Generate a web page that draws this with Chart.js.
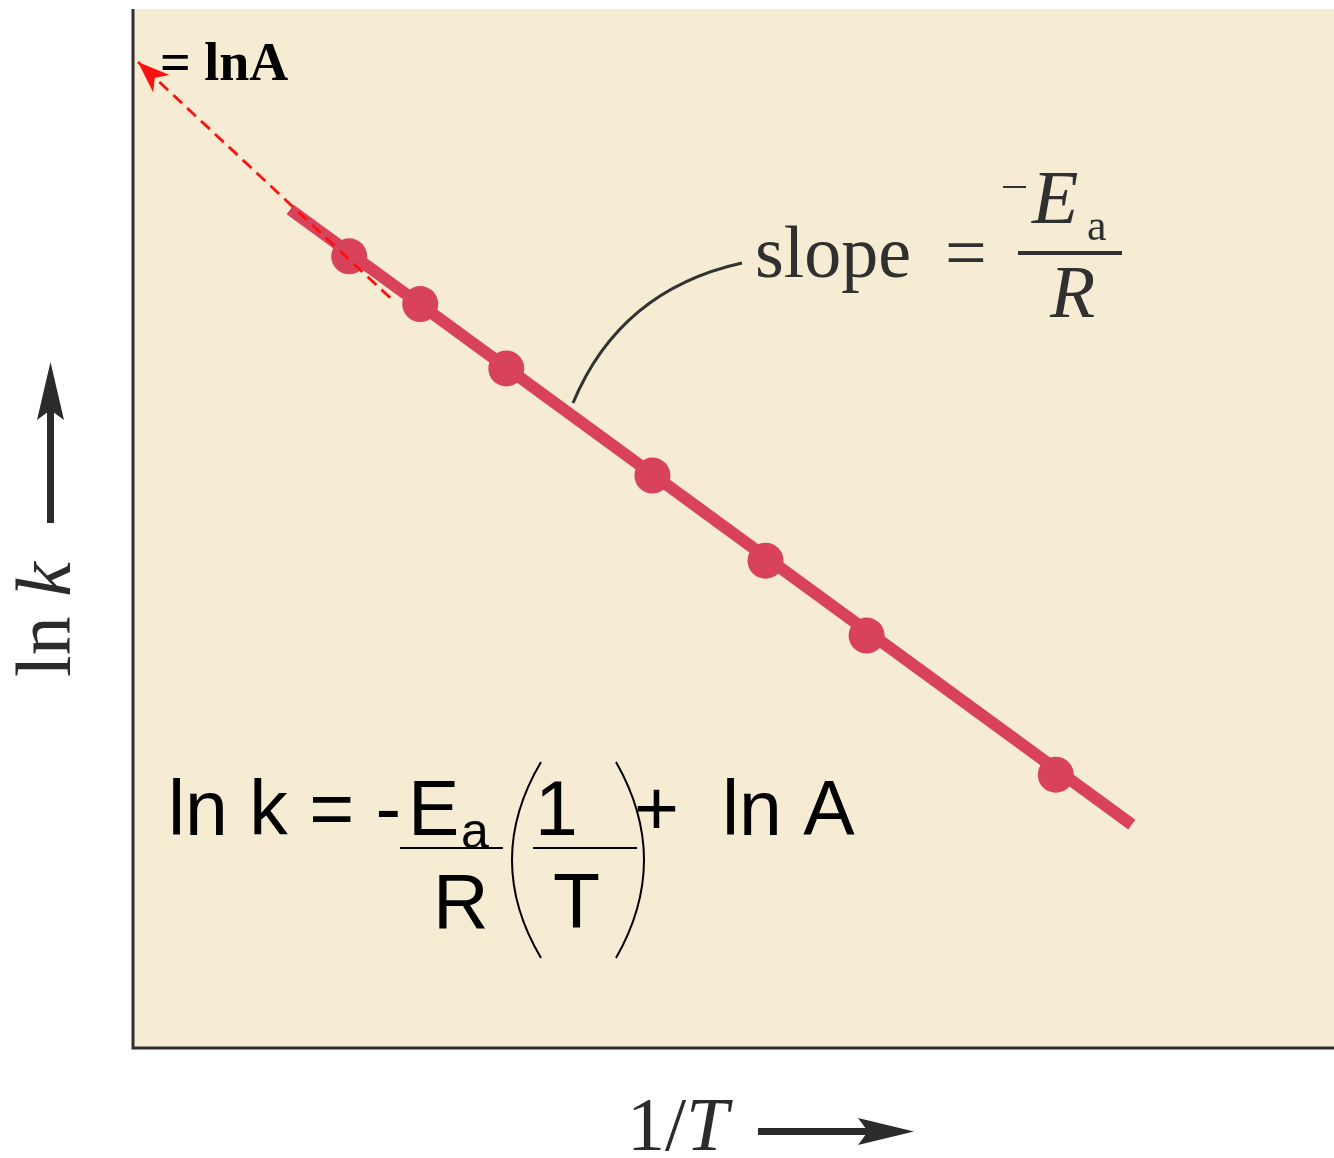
<!DOCTYPE html>
<html>
<head>
<meta charset="utf-8">
<script src="https://cdn.jsdelivr.net/npm/chart.js@4/dist/chart.umd.min.js"></script>
<style>
  body { margin: 0; background: #fff; }
  #wrap { width: 1334px; height: 1158px; }
</style>
</head>
<body>
<div id="wrap"><canvas id="arrhenius" width="1334" height="1158"></canvas></div>
<script>
// measured points: 1/T against ln k (arbitrary units)
const invT = [2.16, 2.87, 3.73, 5.19, 6.32, 7.33, 9.22];
const lnK = [7.62, 7.16, 6.54, 5.51, 4.69, 3.97, 2.63];

// best-fit straight line ends
const fitX = [1.57, 9.98];
const fitY = [8.07, 2.15];

// extrapolation back to the ln k axis (intercept = ln A)
const extX = [2.57, 0.05];
const extY = [7.22, 9.49];

const RED = "#d9425b";
const INK = "#2e2e2e";

function pairs(xs, ys) {
    return xs.map(function(x, i) { return {x: x, y: ys[i]}; });
}

// beige panel behind the plot
const panelBg = {
    id: "panelBg",
    beforeDraw: function(chart) {
        const a = chart.chartArea, ctx = chart.ctx;
        ctx.save();
        ctx.fillStyle = "#f6ecd3";
        ctx.fillRect(a.left, a.top, a.right - a.left, a.bottom - a.top);
        ctx.restore();
    }
};

// axes, arrows and all the text
const decorations = {
    id: "decorations",
    afterDraw: function(chart) {
        const a = chart.chartArea, ctx = chart.ctx;
        const sx = chart.scales.x, sy = chart.scales.y;
        ctx.save();

        // axis lines
        ctx.strokeStyle = INK;
        ctx.lineWidth = 3;
        ctx.beginPath();
        ctx.moveTo(a.left, a.top);
        ctx.lineTo(a.left, a.bottom);
        ctx.lineTo(a.right, a.bottom);
        ctx.stroke();

        // arrow head on the dashed extrapolation
        const n = extX.length - 1;
        const tx = sx.getPixelForValue(extX[n]), ty = sy.getPixelForValue(extY[n]);
        const fx = sx.getPixelForValue(extX[n - 1]), fy = sy.getPixelForValue(extY[n - 1]);
        const ang = Math.atan2(ty - fy, tx - fx);
        ctx.fillStyle = "#ff1010";
        ctx.beginPath();
        ctx.moveTo(tx, ty);
        ctx.lineTo(tx - 32 * Math.cos(ang) + 12 * Math.sin(ang), ty - 32 * Math.sin(ang) - 12 * Math.cos(ang));
        ctx.lineTo(tx - 23 * Math.cos(ang), ty - 23 * Math.sin(ang));
        ctx.lineTo(tx - 32 * Math.cos(ang) - 12 * Math.sin(ang), ty - 32 * Math.sin(ang) + 12 * Math.cos(ang));
        ctx.closePath();
        ctx.fill();

        // intercept label
        ctx.fillStyle = "#000";
        ctx.font = 'bold 54px "Liberation Serif"';
        ctx.textBaseline = "alphabetic";
        ctx.fillText("= lnA", 160, 80);

        // slope callout
        ctx.strokeStyle = "#333";
        ctx.lineWidth = 3;
        ctx.beginPath();
        ctx.moveTo(573, 403);
        ctx.quadraticCurveTo(620, 290, 742, 263);
        ctx.stroke();

        ctx.fillStyle = "#303030";
        ctx.font = '74px "Liberation Serif"';
        ctx.fillText("slope", 755, 277);
        ctx.fillText("=", 945, 277);
        ctx.fillRect(1003, 186, 23, 2);
        ctx.font = 'italic 76px "Liberation Serif"';
        ctx.fillText("E", 1032, 223);
        ctx.font = '44px "Liberation Serif"';
        ctx.fillText("a", 1087, 240);
        ctx.fillRect(1018, 251, 104, 4);
        ctx.font = 'italic 74px "Liberation Serif"';
        ctx.fillText("R", 1050, 317);

        // Arrhenius equation
        ctx.fillStyle = "#000";
        ctx.font = '77px "Liberation Sans"';
        ctx.fillText("ln k = -", 168, 835);
        ctx.fillText("E", 408, 835);
        ctx.fillText("R", 433, 928);
        ctx.fillText("1", 535, 835);
        ctx.fillText("T", 553, 928);
        ctx.fillText("+", 634, 835);
        ctx.fillText("ln A", 722, 835);
        ctx.font = '50px "Liberation Sans"';
        ctx.fillText("a", 461, 848);
        ctx.fillRect(400, 847, 103, 2);
        ctx.fillRect(533, 847, 104, 2);
        ctx.strokeStyle = "#000";
        ctx.lineWidth = 2;
        ctx.beginPath();
        ctx.moveTo(541, 762);
        ctx.quadraticCurveTo(483, 860, 541, 958);
        ctx.moveTo(616, 762);
        ctx.quadraticCurveTo(672, 860, 616, 958);
        ctx.stroke();

        // y axis title with arrow
        ctx.fillStyle = "#2b2b2b";
        ctx.save();
        ctx.translate(70, 677);
        ctx.rotate(-Math.PI / 2);
        ctx.font = '78px "Liberation Serif"';
        ctx.fillText("ln ", 0, 0);
        const w1 = ctx.measureText("ln ").width;
        ctx.font = 'italic 78px "Liberation Serif"';
        ctx.fillText("k", w1, 0);
        ctx.restore();
        ctx.fillRect(47, 405, 7, 118);
        ctx.beginPath();
        ctx.moveTo(50.5, 362);
        ctx.lineTo(64, 420);
        ctx.lineTo(50.5, 410);
        ctx.lineTo(37, 420);
        ctx.closePath();
        ctx.fill();

        // x axis title with arrow
        ctx.font = '76px "Liberation Serif"';
        ctx.fillText("1/", 627, 1150);
        const w2 = ctx.measureText("1/").width;
        ctx.font = 'italic 76px "Liberation Serif"';
        ctx.fillText("T", 627 + w2, 1150);
        ctx.fillRect(758, 1128, 120, 7);
        ctx.beginPath();
        ctx.moveTo(914, 1131.5);
        ctx.lineTo(858, 1145);
        ctx.lineTo(868, 1131.5);
        ctx.lineTo(858, 1118);
        ctx.closePath();
        ctx.fill();

        ctx.restore();
    }
};

new Chart(document.getElementById("arrhenius"), {
    type: "scatter",
    data: {
        datasets: [
        {
            type: "line",
            data: pairs(extX, extY),
            borderColor: "#ff1010",
            borderWidth: 2.8,
            borderDash: [12, 7],
            pointRadius: 0,
            order: 0
        },
        {
            data: pairs(invT, lnK),
            backgroundColor: RED,
            borderWidth: 0,
            pointRadius: 18,
            order: 1
        },
        {
            type: "line",
            data: pairs(fitX, fitY),
            borderColor: RED,
            borderWidth: 12,
            borderCapStyle: "butt",
            pointRadius: 0,
            order: 2
        }
        ]
    },
    options: {
        responsive: false,
        animation: false,
        layout: { autoPadding: false, padding: { left: 133, top: 9, right: 0, bottom: 110 } },
        plugins: { legend: { display: false }, tooltip: { enabled: false } },
        scales: {
            x: { type: "linear", min: 0, max: 12, display: false },
            y: { type: "linear", min: 0, max: 10, display: false }
        }
    },
    plugins: [panelBg, decorations]
});
</script>
</body>
</html>
